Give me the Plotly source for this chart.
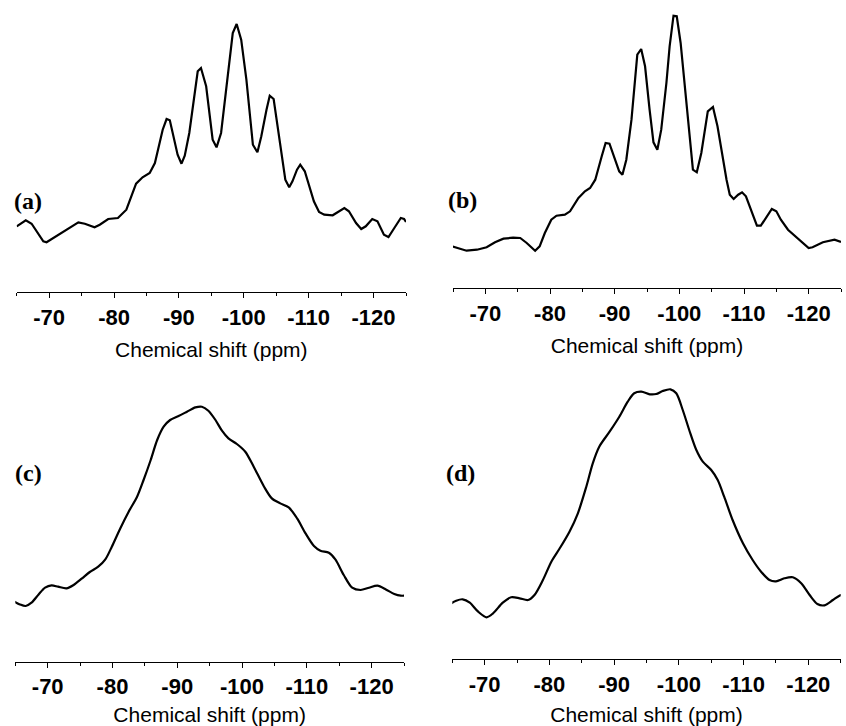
import plotly.graph_objects as go

W, H = 846, 726

# ---- Panel (a) ----
ppm_a = [-65.0, -66.4, -67.3, -69.1, -69.6, -70.9, -72.7, -74.5, -75.5, -77.0, -77.8, -79.1, -80.6,
         -81.9, -83.4, -84.4, -85.5, -86.3, -87.5, -88.1, -88.6, -89.8, -90.4, -90.9, -91.6, -92.4,
         -92.9, -93.4, -94.2, -95.2, -95.8, -96.5, -97.8, -98.3, -98.9, -99.6, -100.4, -101.4, -102.1,
         -102.7, -103.5, -104.0, -104.6, -105.3, -106.4, -107.0, -107.5, -108.2, -108.7, -109.4,
         -110.8, -111.6, -112.4, -113.7, -114.7, -115.5, -116.2, -117.3, -118.1, -118.8, -119.8,
         -120.6, -121.6, -122.3, -123.2, -124.2, -124.7, -125.0]
int_a = [65.7, 71.7, 68.3, 50.7, 49.7, 55.0, 62.3, 69.7, 68.3, 64.7, 67.3, 73.0, 74.0,
         82.3, 108.3, 114.7, 119.0, 129.0, 162.3, 173.0, 171.7, 137.3, 128.3, 136.3, 159.0, 199.0,
         220.7, 224.0, 205.7, 152.3, 144.7, 159.0, 232.3, 259.0, 268.0, 252.3, 212.3, 147.3, 139.7,
         155.7, 182.3, 196.3, 193.0, 162.3, 112.3, 104.7, 110.7, 122.3, 127.3, 120.7,
         90.7, 80.0, 77.3, 76.7, 80.7, 84.0, 80.7, 69.0, 63.0, 65.7, 73.0,
         70.7, 57.3, 55.0, 64.0, 74.0, 73.0, 70.0]

# ---- Panel (b) ----
ppm_b = [-64.8, -65.6, -67.1, -68.7, -70.2, -71.5, -72.8, -74.3, -75.4, -76.4, -77.7, -78.4, -79.2,
         -80.2, -81.0, -82.3, -83.1, -84.4, -85.4, -86.2, -87.0, -88.0, -88.6, -89.2, -90.0, -90.7,
         -91.2, -91.8, -92.6, -93.5, -94.1, -94.7, -95.4, -96.0, -96.6, -97.2, -98.0, -98.5, -99.1,
         -99.6, -100.2, -101.1, -102.1, -102.7, -103.4, -104.4, -105.2, -105.9, -106.5, -107.3,
         -107.8, -108.4, -109.1, -109.7, -110.3, -111.1, -112.0, -112.6, -113.4, -114.3, -115.0,
         -115.7, -116.8, -118.0, -119.1, -120.0, -120.6, -122.2, -124.0, -125.0]
int_b = [41.7, 40.0, 37.3, 38.3, 40.7, 45.7, 49.3, 50.3, 50.0, 45.0, 37.3, 41.7, 55.0,
         68.3, 72.3, 73.3, 76.7, 90.0, 96.7, 100.0, 108.3, 131.7, 145.0, 144.3, 128.3, 116.7,
         113.3, 128.3, 168.3, 233.3, 239.0, 221.7, 178.3, 145.7, 138.3, 158.3, 205.0, 241.7, 272.3,
         271.7, 245.0, 181.7, 118.3, 115.7, 135.0, 176.7, 181.0, 161.7, 138.3, 108.3,
         93.3, 89.0, 93.3, 95.7, 91.7, 78.3, 62.3, 62.3, 70.0, 79.0, 76.7,
         68.3, 58.3, 51.7, 45.0, 40.0, 40.7, 45.7, 48.3, 46.0]

# ---- Panel (c) ----
ppm_c = [-64.6, -65.7, -66.6, -67.5, -68.6, -69.6, -70.6, -71.6, -72.9, -74.0, -75.3, -76.5, -77.8,
         -78.9, -79.9, -81.2, -82.5, -83.8, -84.8, -85.9, -86.9, -87.9, -88.9, -90.2, -91.5, -92.8,
         -93.8, -94.8, -95.9, -96.9, -97.9, -99.2, -100.5, -101.8, -103.4, -104.6, -105.9, -107.2,
         -108.5, -109.8, -111.1, -112.1, -113.4, -114.4, -115.7, -117.0, -118.3, -119.6, -120.9,
         -122.2, -123.5, -124.5, -125.6]
int_c = [61.0, 57.3, 55.7, 59.0, 67.3, 74.0, 76.3, 75.0, 73.3, 76.7, 83.3, 89.7, 95.0,
         102.3, 115.0, 133.3, 150.0, 165.0, 181.7, 201.7, 221.7, 235.0, 241.7, 245.7, 250.0, 254.3,
         255.0, 251.0, 241.7, 231.0, 223.3, 217.7, 210.0, 195.0, 175.0, 163.3, 158.3, 154.3,
         143.3, 128.3, 115.7, 111.0, 109.0, 102.3, 86.7, 74.0, 71.7, 74.0, 76.0,
         72.3, 67.7, 66.0, 66.3]

# ---- Panel (d) ----
ppm_d = [-64.6, -65.6, -66.6, -67.7, -69.0, -70.3, -71.3, -72.8, -74.1, -75.4, -76.7, -77.7, -79.0,
         -80.3, -81.6, -83.1, -84.4, -85.7, -86.7, -87.7, -89.3, -90.8, -92.1, -93.1, -94.2, -95.5,
         -96.5, -97.5, -98.7, -99.6, -100.6, -101.6, -102.7, -103.7, -105.0, -106.0, -107.0, -108.3,
         -109.9, -111.4, -112.7, -114.0, -115.0, -116.3, -117.6, -118.9, -120.2, -121.4, -122.5,
         -123.8, -124.8, -125.6]
int_d = [54.7, 58.3, 59.7, 56.3, 47.3, 41.7, 45.7, 56.3, 61.7, 60.7, 59.0, 64.0, 79.0,
         97.3, 110.7, 127.3, 145.7, 172.3, 195.7, 212.3, 227.3, 242.3, 257.3, 265.7, 267.3, 264.7,
         265.0, 268.0, 269.7, 265.7, 249.0, 229.0, 209.0, 197.3, 189.0, 179.0, 162.3, 139.0,
         115.7, 99.0, 87.3, 79.0, 77.7, 80.7, 81.7, 75.7, 64.0, 55.0, 53.7,
         59.0, 63.3, 64.7]

tick_vals = [-70, -80, -90, -100, -110, -120]
tick_text = ["-70", "-80", "-90", "-100", "-110", "-120"]
panel_labels = ["(a)", "(b)", "(c)", "(d)"]
x_title = "Chemical shift (ppm)"

# layout (pixel positions converted to paper fractions)
panels = [
    dict(x=ppm_a, y=int_a, shape="linear", xpx=(16.7, 406.0), ypx=(292.0, 5.0), lab=(28, 201)),
    dict(x=ppm_b, y=int_b, shape="linear", xpx=(453.0, 841.0), ypx=(288.0, 5.0), lab=(463, 200)),
    dict(x=ppm_c, y=int_c, shape="spline", xpx=(15.3, 404.0), ypx=(661.7, 375.0), lab=(28, 473)),
    dict(x=ppm_d, y=int_d, shape="spline", xpx=(452.3, 840.7), ypx=(659.0, 375.0), lab=(461, 473)),
]

fig = go.Figure()
for i, p in enumerate(panels, start=1):
    sfx = "" if i == 1 else str(i)
    fig.add_trace(go.Scatter(
        x=p["x"], y=p["y"], mode="lines",
        line=dict(color="black", width=2.2, shape=p["shape"], smoothing=0.8),
        xaxis="x" + sfx, yaxis="y" + sfx, showlegend=False, hoverinfo="skip"))
    xd = [p["xpx"][0] / W, p["xpx"][1] / W]
    yd = [1 - p["ypx"][0] / H, 1 - p["ypx"][1] / H]
    hpx = p["ypx"][0] - p["ypx"][1]
    fig.layout["xaxis" + sfx] = dict(
        domain=xd, anchor="y" + sfx, range=[-65, -125],
        showgrid=False, zeroline=False, showline=True, linecolor="black", linewidth=1.3,
        ticks="outside", ticklen=5, tickwidth=1.2, tickcolor="black",
        tickvals=tick_vals, ticktext=["<b>" + t + "</b>" for t in tick_text],
        minor=dict(dtick=5, tick0=0, ticks="outside", ticklen=3, tickwidth=1.2, tickcolor="black"),
        tickfont=dict(family="Liberation Sans, Arial, sans-serif", size=22, color="black"),
        title=dict(text=x_title, standoff=13,
                   font=dict(family="Liberation Sans, Arial, sans-serif", size=21, color="black")),
    )
    fig.layout["yaxis" + sfx] = dict(
        domain=yd, anchor="x" + sfx, range=[0, hpx], visible=False, fixedrange=True)
    fig.add_annotation(
        x=p["lab"][0] / W, y=1 - p["lab"][1] / H, xref="paper", yref="paper",
        text="<b>" + panel_labels[i - 1] + "</b>", showarrow=False,
        xanchor="center", yanchor="middle",
        font=dict(family="Liberation Serif, Times New Roman, serif", size=24, color="black"))

fig.update_layout(
    width=W, height=H, margin=dict(l=0, r=0, t=0, b=0),
    paper_bgcolor="white", plot_bgcolor="white", showlegend=False)

fig.write_html("out.html")
